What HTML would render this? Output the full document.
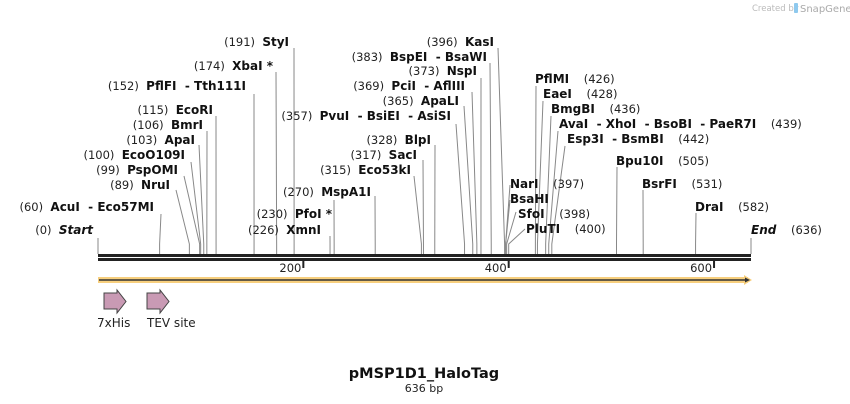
<!DOCTYPE html>
<html><head><meta charset="utf-8">
<style>
html,body{margin:0;padding:0;background:#fff;}
svg{display:block;font-family:"DejaVu Sans","Liberation Sans",sans-serif;}
.num{font-size:11.5px;fill:#222;}
.nm{font-size:12px;font-weight:bold;fill:#111;}
</style></head>
<body>
<svg id="map" width="850" height="404" viewBox="0 0 850 404">
  <text x="752" y="11" font-size="8.5" fill="#bbb">Created by</text>
  <rect x="794" y="3" width="4" height="10" rx="1" fill="#8ec9ee"/>
  <text x="800" y="12" font-size="10" fill="#aaa">SnapGene</text>
  <g id="lines"></g>
  <g id="labels"></g>
  <rect x="98" y="254" width="653" height="3" fill="#222"/>
  <rect x="98" y="258" width="653" height="3" fill="#222"/>
  <g id="ticks"></g>
  <g>
    <rect x="98" y="277" width="650" height="6" fill="#f7cf7e"/>
    <polygon points="744,275 752,280 744,285" fill="#f7cf7e"/>
    <line x1="99" y1="280" x2="746" y2="280" stroke="#333" stroke-width="1.5"/>
    <polygon points="745,277.5 750,280 745,282.5" fill="#333"/>
  </g>
  <polygon points="104,293 117,293 117,290 126,301.5 117,313 117,309 104,309" fill="#c99ab4" stroke="#444" stroke-width="1"/>
  <polygon points="147,293 160,293 160,290 169,301.5 160,313 160,309 147,309" fill="#c99ab4" stroke="#444" stroke-width="1"/>
  <text x="97" y="327" font-size="12" fill="#222">7xHis</text>
  <text x="147" y="327" font-size="12" fill="#222">TEV site</text>
  <text x="424" y="378" text-anchor="middle" font-size="14.5" font-weight="bold" fill="#111">pMSP1D1_HaloTag</text>
  <text x="424" y="392" text-anchor="middle" font-size="11" fill="#222">636 bp</text>
</svg>
<script>
const seqLength = 636;
const tickValues = [200, 400, 600];
const enzymeNames = ["Start","AcuI  - Eco57MI","NruI","PspOMI","EcoO109I","ApaI","BmrI","EcoRI","PflFI  - Tth111I","XbaI *","StyI","XmnI","PfoI *","MspA1I","Eco53kI","SacI","BlpI","PvuI  - BsiEI  - AsiSI","ApaLI","PciI  - AflIII","NspI","BspEI  - BsaWI","KasI","NarI","BsaHI","SfoI","PluTI","PflMI","EaeI","BmgBI","AvaI  - XhoI  - BsoBI  - PaeR7I","Esp3I  - BsmBI","Bpu10I","BsrFI","DraI","End"];
const enzymeSites = [0,60,89,99,100,103,106,115,152,174,191,226,230,270,315,317,328,357,365,369,373,383,396,397,397,398,400,426,428,436,439,442,505,531,582,636];
const enzymeNumbers = ["0","60","89","99","100","103","106","115","152","174","191","226","230","270","315","317","328","357","365","369","373","383","396","397","","398","400","426","428","436","439","442","505","531","582","636"];
// label layout: [textX, baselineY, side(L/R), anchorX, anchorY]
const labelLayout = [
 [93,234,"L",98,238],[154,211,"L",161,214],[170,189,"L",176,190],[178,174,"L",184,176],
 [185,159,"L",191,162],[195,144,"L",199,145],[203,129,"L",207,131],[213,114,"L",216,116],
 [246,90,"L",254,94],[273,70,"L",276,72],[289,46,"L",294,48],[321,234,"L",330,236],
 [332,218,"L",334,200],[371,196,"L",375,196],[411,174,"L",414,176],[417,159,"L",423,160],
 [431,144,"L",435,145],[451,120,"L",456,124],[459,105,"L",464,106],[465,90,"L",472,92],
 [477,75,"L",481,78],[487,61,"L",490,63],[494,46,"L",498,48],
 [510,188,"R",510,185],[510,203,"R",510,200],[518,218,"R",516,212],[526,233,"R",525,229],
 [535,83,"R",536,86],[543,98,"R",543,101],[551,113,"R",551,116],[559,128,"R",558,131],
 [567,143,"R",565,146],[616,165,"R",617,167],[642,188,"R",643,190],[695,211,"R",696,213],[751,234,"R",751,238]
];
const NS = "http://www.w3.org/2000/svg";
const xScale = bp => 98 + bp * (751 - 98) / seqLength;
const linesG = document.getElementById('lines');
const labelsG = document.getElementById('labels');
const ticksG = document.getElementById('ticks');

tickValues.forEach(v => {
  const x = xScale(v);
  const t = document.createElementNS(NS, 'rect');
  t.setAttribute('x', x - 1); t.setAttribute('y', 261); t.setAttribute('width', 2); t.setAttribute('height', 7); t.setAttribute('fill', '#222');
  
  
  ticksG.appendChild(t);
  const l = document.createElementNS(NS, 'text');
  l.setAttribute('x', x - 2); l.setAttribute('y', 272); l.setAttribute('text-anchor', 'end'); l.setAttribute('font-size', '11.5'); l.setAttribute('fill', '#222');
  l.textContent = v;
  
  
  ticksG.appendChild(l);
});

enzymeNames.forEach((name, i) => {
  const [tx, ty, side, ax, ay] = labelLayout[i];
  const sx = xScale(enzymeSites[i]);
  const p = document.createElementNS(NS, 'polyline');
  const bendY = Math.max(ay, 244);
  p.setAttribute('points', `${ax},${ay} ${sx},${bendY} ${sx},254`);
  p.setAttribute('fill', 'none'); p.setAttribute('stroke', '#888'); p.setAttribute('stroke-width', '1');
  
  
  linesG.appendChild(p);
  const t = document.createElementNS(NS, 'text');
  t.setAttribute('x', tx); t.setAttribute('y', ty);
  t.setAttribute('xml:space', 'preserve');
  t.style.whiteSpace = 'pre';
  const italic = (name === 'Start' || name === 'End');
  const num = enzymeNumbers[i] ? '(' + enzymeNumbers[i] + ')' : '';
  const mk = (cls, txt) => { const s = document.createElementNS(NS, 'tspan'); s.setAttribute('class', cls); if (cls === 'nm' && italic) s.setAttribute('font-style', 'italic'); s.textContent = txt; return s; };
  if (side === 'L') {
    t.setAttribute('text-anchor', 'end');
    t.appendChild(mk('num', num + '  '));
    t.appendChild(mk('nm', name));
  } else {
    t.setAttribute('text-anchor', 'start');
    t.appendChild(mk('nm', name));
    if (num) t.appendChild(mk('num', '    ' + num));
  }
  
  
  labelsG.appendChild(t);
});
</script>
</body></html>
